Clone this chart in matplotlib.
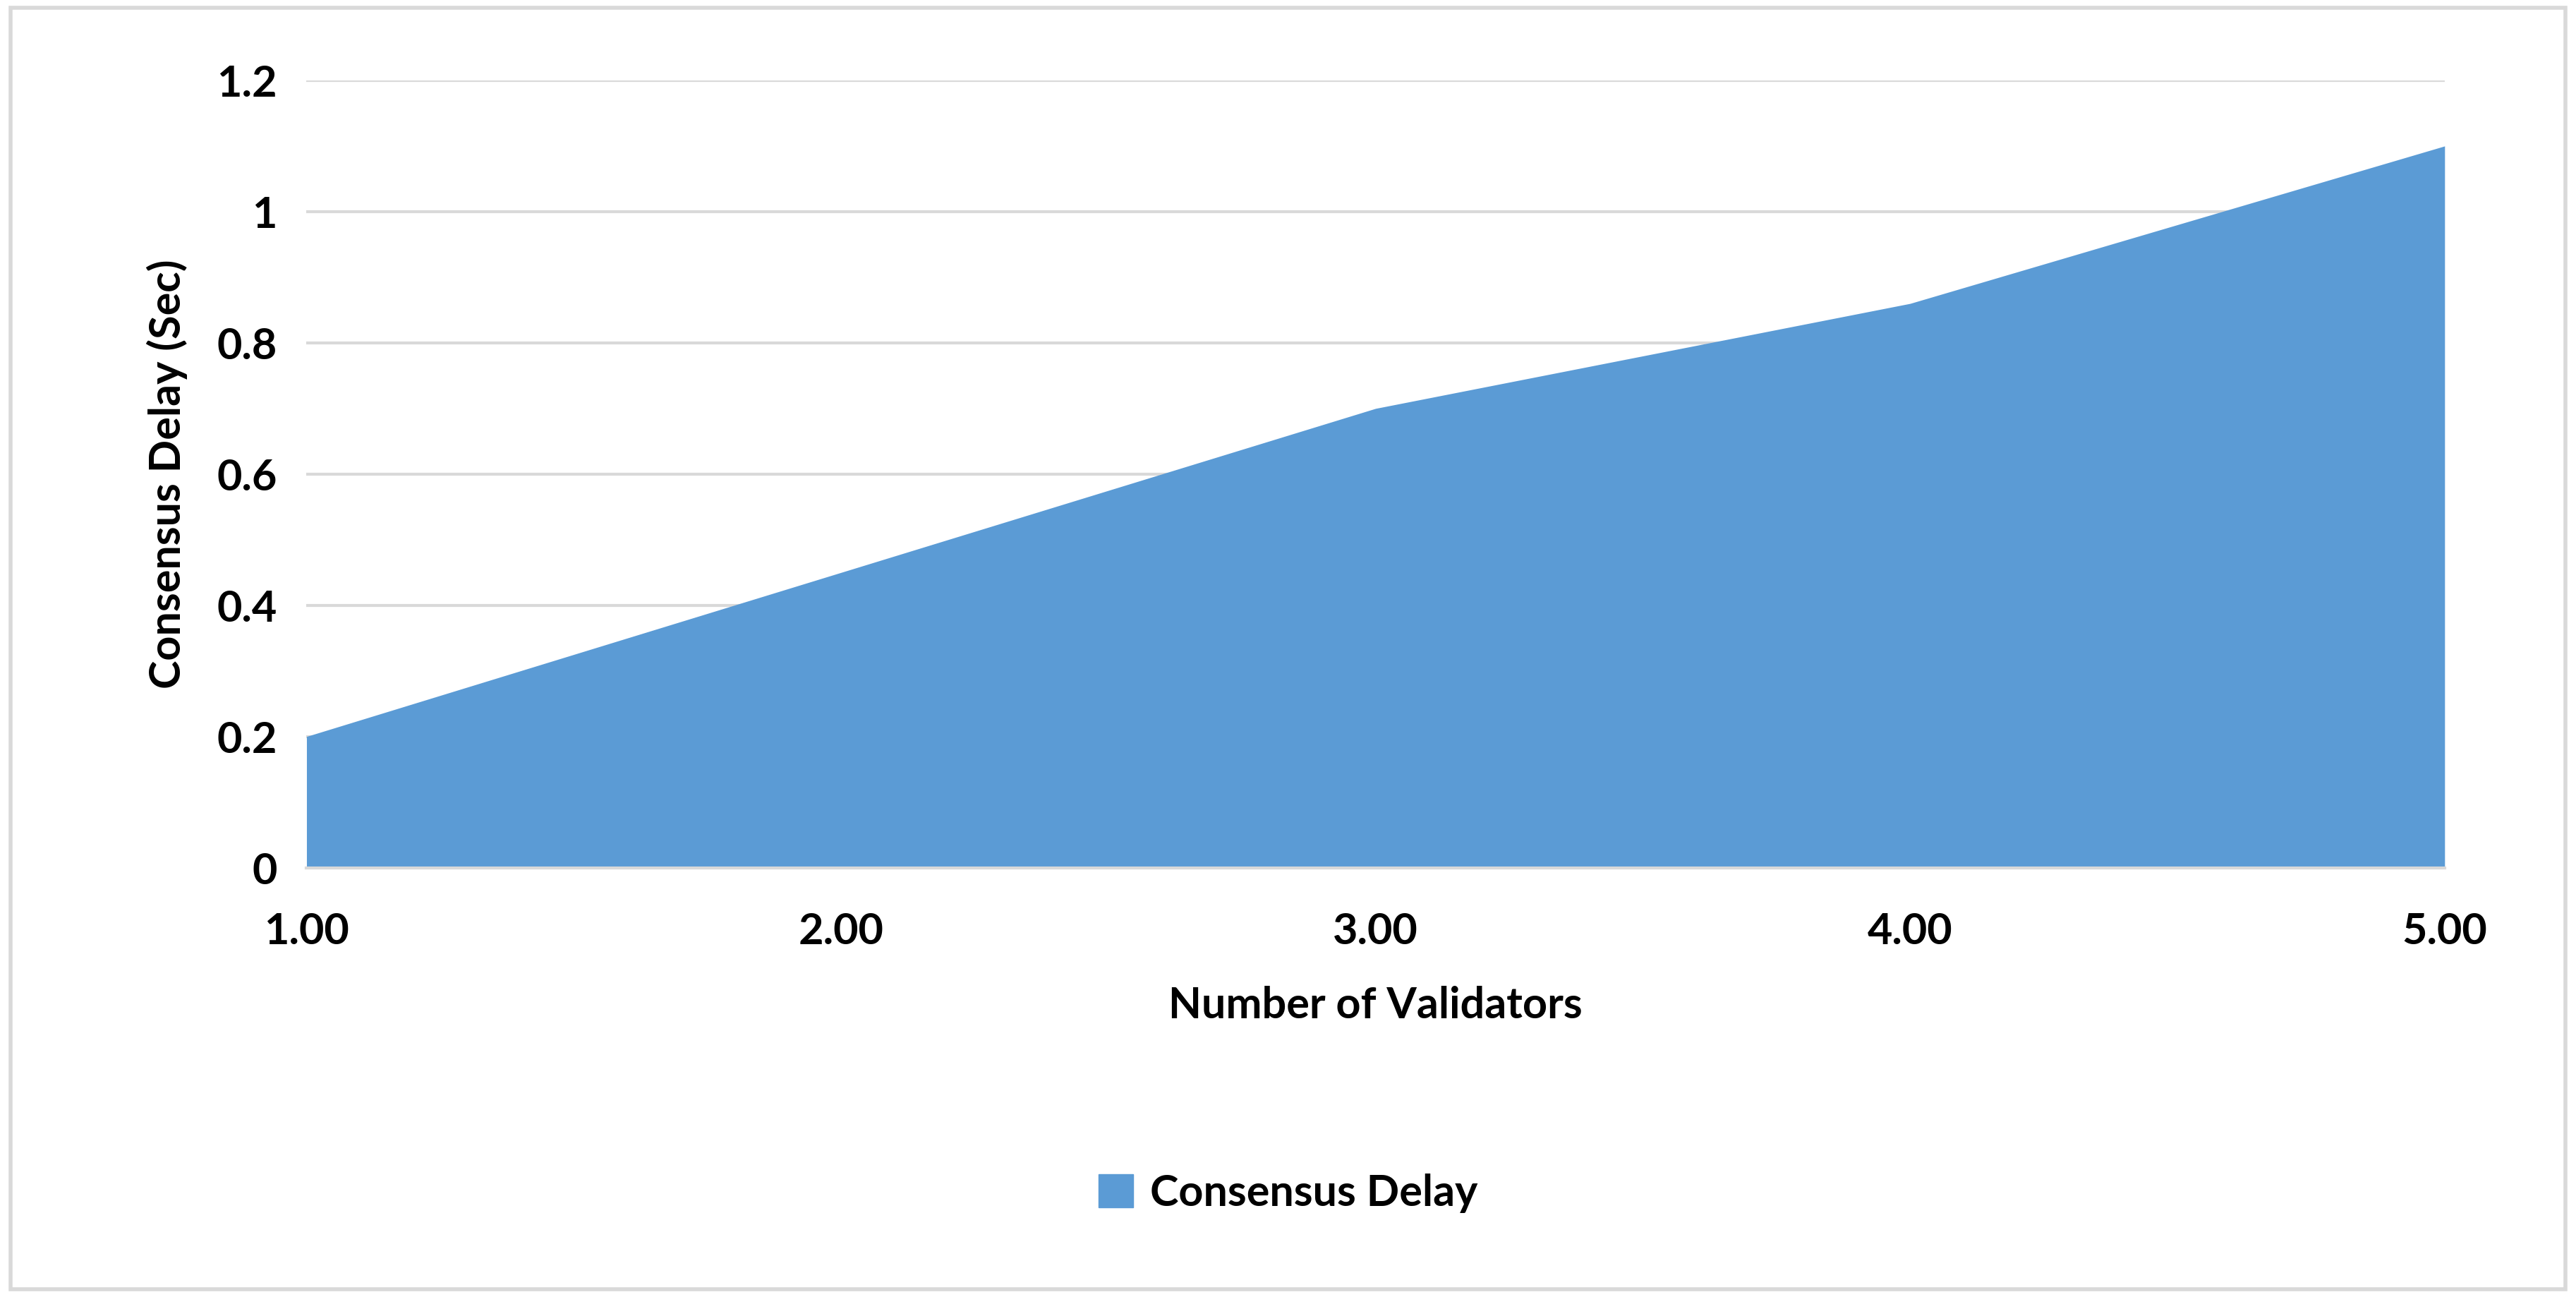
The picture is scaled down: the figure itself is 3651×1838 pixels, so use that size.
import matplotlib.pyplot as plt
from matplotlib.patches import Patch, Rectangle

validators = [1, 2, 3, 4, 5]
delay = [0.2, 0.45, 0.7, 0.86, 1.1]
x_labels = ['1.00', '2.00', '3.00', '4.00', '5.00']

plt.rcParams['font.family'] = ['Lato', 'DejaVu Sans']
plt.rcParams['font.weight'] = 'bold'

fig = plt.figure(figsize=(36.51, 18.38), dpi=100)
ax = fig.add_axes([0.119, 0.331, 0.830, 0.607])
ax.fill_between(validators, delay, 0, color='#5B9BD5', linewidth=0)
ax.set_xlim(1, 5)
ax.set_ylim(0, 1.2)
ax.set_yticks([0, 0.2, 0.4, 0.6, 0.8, 1.0, 1.2])
ax.set_yticklabels(['0', '0.2', '0.4', '0.6', '0.8', '1', '1.2'])
ax.set_xticks(validators)
ax.set_xticklabels(x_labels)
ax.tick_params(labelsize=44, length=0, pad=30)
ax.tick_params(axis='x', pad=45)
ax.yaxis.grid(color='#D9D9D9', linewidth=3)
ax.set_axisbelow(True)
for s in ['top', 'right', 'left']:
    ax.spines[s].set_visible(False)
ax.spines['bottom'].set_color('#D9D9D9')
ax.spines['bottom'].set_linewidth(3)
ax.set_xlabel('Number of Validators', fontsize=44, fontweight='bold', labelpad=35)
ax.set_ylabel('Consensus Delay (Sec)', fontsize=44, fontweight='bold', labelpad=30)

fig.legend(handles=[Patch(color='#5B9BD5', label='Consensus Delay')],
           loc='center', bbox_to_anchor=(0.5, 0.08), frameon=False,
           fontsize=44, handlelength=0.8, handleheight=0.8, handletextpad=0.4)
fig.patches.append(Rectangle((0.004, 0.006), 0.992, 0.988, transform=fig.transFigure,
                             fill=False, edgecolor='#D9D9D9', linewidth=4))
fig.savefig('out.png', dpi=100)
